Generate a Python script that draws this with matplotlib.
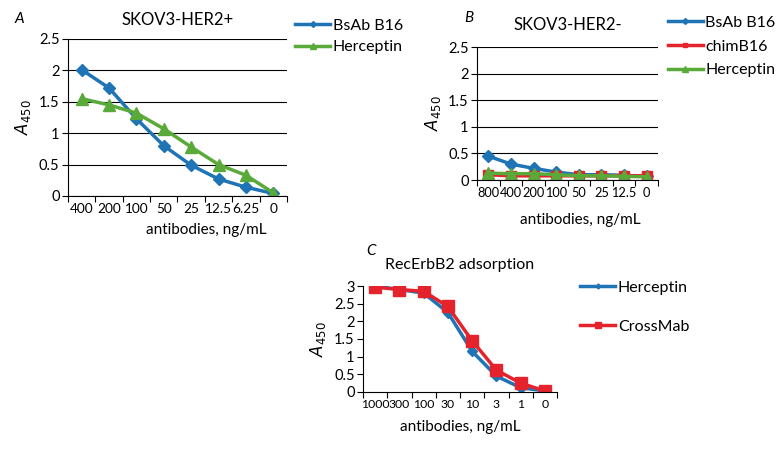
import matplotlib
matplotlib.use("Agg")
import matplotlib.pyplot as plt
import numpy as np

# Panel A: SKOV3-HER2+
a_labels = ["400", "200", "100", "50", "25", "12.5", "6.25", "0"]
a_bsab = [2.01, 1.72, 1.23, 0.80, 0.49, 0.27, 0.14, 0.04]
a_herc = [1.55, 1.45, 1.32, 1.07, 0.78, 0.50, 0.33, 0.05]

# Panel B: SKOV3-HER2-
b_labels = ["800", "400", "200", "100", "50", "25", "12.5", "0"]
b_bsab = [0.45, 0.30, 0.22, 0.15, 0.10, 0.10, 0.09, 0.07]
b_chim = [0.10, 0.08, 0.08, 0.08, 0.08, 0.08, 0.08, 0.08]
b_herc = [0.13, 0.12, 0.12, 0.10, 0.08, 0.08, 0.07, 0.06]

# Panel C: RecErbB2 adsorption
c_labels = ["1000", "300", "100", "30", "10", "3", "1", "0"]
c_herc = [3.00, 2.90, 2.80, 2.25, 1.15, 0.45, 0.12, 0.03]
c_cross = [2.97, 2.90, 2.85, 2.42, 1.45, 0.62, 0.25, 0.03]

BLUE = "#1f74b6"
GREEN = "#5aaa3a"
RED = "#e4232d"

plt.rcParams["font.family"] = ["Lato", "DejaVu Sans"]
plt.rcParams["font.size"] = 10.5

fig = plt.figure(figsize=(7.81, 4.49), dpi=100)


def setup(ax, labels, ymax, step, tick_fs=10.5, grid=True, xpad=7):
    n = len(labels)
    ax.set_xlim(0, n)
    ax.set_ylim(0, ymax)
    ax.set_xticks(np.arange(n + 1))
    ax.set_xticklabels([])
    ax.set_xticks(np.arange(n) + 0.5, minor=True)
    ax.set_xticklabels(labels, minor=True, fontsize=tick_fs)
    ax.tick_params(axis="x", which="major", length=4, direction="out")
    ax.tick_params(axis="x", which="minor", length=0, pad=5)
    yt = np.arange(0, ymax + 0.001, step)
    ax.set_yticks(yt)
    ax.set_yticklabels([f"{v:g}" for v in yt], fontsize=10.5)
    ax.tick_params(axis="y", length=4, direction="out", pad=2)
    for s in ["top", "right"]:
        ax.spines[s].set_visible(False)
    if grid:
        ax.yaxis.grid(True, color="black", linewidth=0.8)
        ax.set_axisbelow(True)
    ax.set_ylabel(r"$A_{450}$", fontsize=12)
    ax.set_xlabel("antibodies, ng/mL", fontsize=11, labelpad=xpad)


def legend(ax, x, y, spacing):
    ax.legend(loc="upper left", bbox_to_anchor=(x, y), bbox_transform=fig.transFigure,
              frameon=False, handlelength=2.2, labelspacing=spacing, fontsize=11.5,
              handletextpad=0.15, borderpad=0, borderaxespad=0, markerscale=0.5)


# A
ax = fig.add_axes([0.087, 0.5635, 0.2805, 0.3497])
x = np.arange(len(a_labels)) + 0.5
ax.plot(x, a_bsab, color=BLUE, lw=2.5, marker="D", ms=6, label="BsAb B16")
ax.plot(x, a_herc, color=GREEN, lw=2.5, marker="^", ms=8, label="Herceptin")
setup(ax, a_labels, 2.5, 0.5, tick_fs=9.8, xpad=6)
ax.xaxis.label.set_position((0.63, 0))
ax.set_title("SKOV3-HER2+", fontsize=12, pad=10)
fig.text(0.019, 0.958, "A", fontsize=11, style="italic", va="center")
legend(ax, 0.378, 0.958, 0.45)

# B
ax = fig.add_axes([0.6108, 0.599, 0.2318, 0.2962])
x = np.arange(len(b_labels)) + 0.5
ax.plot(x, b_bsab, color=BLUE, lw=2.5, marker="D", ms=6, label="BsAb B16")
ax.plot(x, b_chim, color=RED, lw=2.5, marker="s", ms=7, label="chimB16")
ax.plot(x, b_herc, color=GREEN, lw=2.5, marker="^", ms=8, label="Herceptin")
setup(ax, b_labels, 2.5, 0.5, tick_fs=9.2, xpad=10)
ax.xaxis.label.set_position((0.57, 0))
ax.set_title("SKOV3-HER2-", fontsize=12, pad=12)
fig.text(0.594, 0.96, "B", fontsize=11, style="italic", va="center")
legend(ax, 0.855, 0.965, 0.6)

# C
ax = fig.add_axes([0.4648, 0.127, 0.2484, 0.236])
x = np.arange(len(c_labels)) + 0.5
ax.plot(x, c_herc, color=BLUE, lw=2.5, marker="D", ms=5, label="Herceptin")
ax.plot(x, c_cross, color=RED, lw=2.5, marker="s", ms=9, label="CrossMab")
setup(ax, c_labels, 3, 0.5, tick_fs=8.8, grid=False)
ax.set_title("RecErbB2 adsorption", fontsize=11.5, pad=12)
fig.text(0.469, 0.44, "C", fontsize=11, style="italic", va="center")
legend(ax, 0.743, 0.375, 1.55)

fig.savefig("out.png", dpi=100)
